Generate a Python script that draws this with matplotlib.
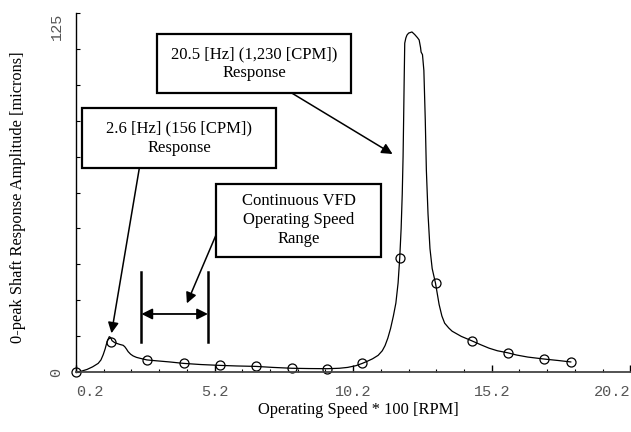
import matplotlib
matplotlib.use("Agg")
import matplotlib.pyplot as plt
from matplotlib.patches import Rectangle
import numpy as np

# response curve (speed * 100 rpm, microns 0-peak)
speed = [0.2, 0.4, 0.6, 0.8, 1.0, 1.1, 1.18, 1.25, 1.3, 1.35, 1.4, 1.45, 1.5, 1.6,
         1.78, 1.9, 1.96, 2.02, 2.08, 2.17, 2.26, 2.38, 2.5, 2.76, 3.1, 3.58, 4.08,
         4.7, 5.4, 6.0, 6.69, 7.3, 7.99, 8.6, 9.27, 9.7, 10.0, 10.3, 10.53, 10.7,
         10.9, 11.1, 11.25, 11.35, 11.45, 11.55, 11.65, 11.74, 11.82, 11.88, 11.93, 11.97,
         12.0, 12.02, 12.04, 12.06, 12.1, 12.14, 12.2, 12.32, 12.42, 12.52, 12.58,
         12.63, 12.65, 12.7, 12.75, 12.8, 12.84, 12.9, 12.97, 13.05, 13.17, 13.3,
         13.4, 13.5, 13.65, 13.77, 14.1, 14.47, 14.8, 15.1, 15.4, 15.77, 16.1, 16.5,
         17.1, 17.6, 18.05]
amplitude = [0, 0.3, 0.9, 1.8, 3.0, 4.2, 6.0, 8.0, 9.8, 11.2, 12.3, 12.0, 10.9, 10.2,
             9.6, 9.3, 8.8, 8.0, 7.1, 6.2, 5.6, 5.1, 4.8, 4.2, 3.9, 3.5, 3.0,
             2.6, 2.3, 2.1, 1.95, 1.6, 1.3, 1.2, 1.15, 1.3, 1.6, 2.2, 3.0, 3.7,
             4.6, 5.8, 7.4, 9.2, 11.8, 15.2, 19.5, 24.0, 31.0, 39.8, 50.0, 62.0,
             75.0, 88.0, 102.0, 114.5, 116.3, 117.3, 118.0, 118.4, 117.5, 116.4, 115.6,
             113.0, 111.4, 110.5, 105.0, 88.0, 70.3, 55.0, 43.0, 36.0, 30.9, 23.5,
             19.5, 17.0, 15.3, 14.2, 12.4, 10.9, 9.5, 8.3, 7.4, 6.7, 5.9, 5.2,
             4.5, 4.0, 3.5]

# open circle markers
mark_speed = [0.2, 1.48, 2.76, 4.08, 5.4, 6.69, 7.99, 9.27, 10.53, 11.88, 13.17,
              14.47, 15.77, 17.1, 18.05]
mark_amp = [0, 10.6, 4.2, 3.0, 2.3, 1.95, 1.3, 1.15, 3.0, 39.8, 30.9, 10.9, 6.7, 4.5, 3.5]

xtick_vals = [0.2, 5.2, 10.2, 15.2, 20.2]
xtick_labels = ["0.2", "5.2", "10.2", "15.2", "20.2"]

vfd_range = [2.56, 4.96]

W, H = 631, 432
fig = plt.figure(figsize=(W / 100, H / 100), dpi=100)
ax = fig.add_axes([76 / W, 1 - 372 / H, 555 / W - 0.001, (372 - 13) / H])

serif = "Liberation Serif"
mono = "Liberation Mono"

ax.plot(speed, amplitude, color="black", lw=0.9)
ax.plot(mark_speed, mark_amp, "o", mfc="none", mec="black", ms=6.5, mew=0.9, clip_on=False)

ax.set_xlim(0.2, 20.2)
ax.set_ylim(0, 125)
for s in ["top", "right"]:
    ax.spines[s].set_visible(False)
ax.spines["left"].set_linewidth(1.0)
ax.spines["bottom"].set_linewidth(1.3)
ax.spines["bottom"].set_color("#444444")

ax.set_xticks(xtick_vals)
ax.set_xticks(np.arange(0.2, 20.3, 1.0), minor=True)
ax.set_xticklabels(xtick_labels, fontfamily=mono, fontsize=11, color="#555555")
labels = ax.get_xticklabels()
labels[0].set_ha("left")
labels[-1].set_ha("right")
ax.tick_params(axis="x", which="major", direction="in", length=5, width=1, pad=9)
ax.tick_params(axis="x", which="minor", direction="in", length=2.5, width=0.8)

ax.set_yticks(np.arange(0, 126, 12.5))
ax.set_yticklabels(["0"] + [""] * 9 + ["125"], fontfamily=mono, fontsize=11,
                   color="#555555", rotation=90)
ylabels = ax.get_yticklabels()
ylabels[0].set_va("center")
ylabels[-1].set_va("top")
ax.tick_params(axis="y", direction="in", length=3, width=0.8, pad=9)

fig.text(358 / W, 1 - 410 / H, "Operating Speed * 100 [RPM]", family=serif,
         fontsize=11.8, ha="center", va="center")
fig.text(18 / W, 1 - 197 / H, "0-peak Shaft Response Amplitude [microns]",
         family=serif, fontsize=11.8, rotation=90, ha="center", va="center")


def box(x0, y0, x1, y1, text):
    fig.patches.append(Rectangle((x0 / W, 1 - y1 / H), (x1 - x0) / W, (y1 - y0) / H,
                                 transform=fig.transFigure, fill=True, fc="white",
                                 ec="black", lw=1.6, zorder=5))
    fig.text((x0 + x1) / 2 / W, 1 - (y0 + y1) / 2 / H, text, family=serif,
             fontsize=12, ha="center", va="center", linespacing=1.25, zorder=6)


def arrow(px, py, tx, ty):
    ax.annotate("", xy=(tx, ty), xycoords="data",
                xytext=(px / W, 1 - py / H), textcoords="figure fraction",
                arrowprops=dict(arrowstyle="-|>", color="black", lw=1.1,
                                mutation_scale=16, shrinkA=0, shrinkB=0))


box(157, 34, 351, 93, "20.5 [Hz] (1,230 [CPM])\nResponse")
box(82, 108, 276, 168, "2.6 [Hz] (156 [CPM])\nResponse")
box(216, 184, 381, 257, "Continuous VFD\nOperating Speed\nRange")

arrow(291.7, 93, 11.62, 75.9)
arrow(139.3, 168.3, 1.48, 13.5)
arrow(216, 235, 4.2, 23.9)

# VFD speed range bracket
for xv in vfd_range:
    ax.plot([xv, xv], [10.6, 34.9], color="black", lw=1.8)
ax.annotate("", xy=(vfd_range[1], 20.2), xytext=(vfd_range[0], 20.2),
            arrowprops=dict(arrowstyle="<|-|>", color="black", lw=1.3,
                            mutation_scale=16, shrinkA=0, shrinkB=0))

fig.savefig("out.png", dpi=100)
